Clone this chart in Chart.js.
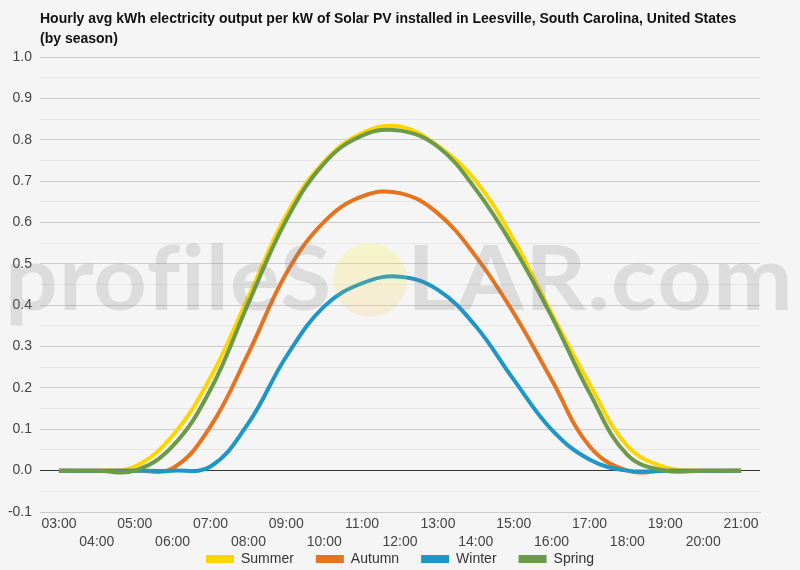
<!DOCTYPE html>
<html>
<head>
<meta charset="utf-8">
<script src="https://cdn.jsdelivr.net/npm/chart.js@4.4.1/dist/chart.umd.min.js"></script>
<style>
  html, body { margin: 0; padding: 0; background: #f5f5f5; }
  #wrap { position: relative; width: 800px; height: 570px; }
  #title {
    position: absolute; left: 40px; top: 8px; width: 740px;
    font: bold 14px Arial, "Liberation Sans", sans-serif; line-height: 20px; color: #111;
  }
  canvas { position: absolute; left: 0; top: 0; }
</style>
</head>
<body>
<div id="wrap">
  <canvas id="chart" width="800" height="570"></canvas>
  <div id="title">Hourly avg kWh electricity output per kW of Solar PV installed in Leesville, South Carolina, United States<br>(by season)</div>
</div>
<script>
// hours on the x axis
const hours = ['03:00', '04:00', '05:00', '06:00', '07:00', '08:00', '09:00', '10:00', '11:00', '12:00',
               '13:00', '14:00', '15:00', '16:00', '17:00', '18:00', '19:00', '20:00', '21:00'];

// kWh per kW
const summer = [0, 0, 0.01, 0.085, 0.225, 0.42, 0.618, 0.747, 0.816, 0.832, 0.785, 0.70, 0.558, 0.38, 0.21, 0.06, 0.008, 0, 0];
const autumn = [0, 0, 0, 0.006, 0.107, 0.284, 0.477, 0.602, 0.663, 0.671, 0.622, 0.518, 0.381, 0.22, 0.059, 0, 0, 0, 0];
const winter = [0, 0, 0, 0, 0.01, 0.115, 0.276, 0.397, 0.453, 0.469, 0.437, 0.349, 0.22, 0.099, 0.027, 0, 0, 0, 0];
const spring = [0, 0, 0, 0.059, 0.196, 0.405, 0.606, 0.743, 0.81, 0.822, 0.783, 0.68, 0.54, 0.373, 0.188, 0.038, 0, 0, 0];

const seasons = ['Summer', 'Autumn', 'Winter', 'Spring'];
const colors = ['#ffd500', '#e8731e', '#1e96c8', '#6b9a4b'];

// y ticks every 0.05, only every 0.1 gets a label
const yMin = -0.1, yMax = 1.0, yStep = 0.05;

// big faded "profileSOLAR.com" mark over the plot
const watermark = {
  id: 'watermark',
  afterLayout(chart) {
    // pull the legend up so it sits just under the second row of hour labels
    const lg = chart.legend;
    if (lg) { lg.top -= 20; lg.bottom -= 20; }
  },
  afterDatasetsDraw(chart) {
    const ctx = chart.ctx;
    ctx.save();
    ctx.font = 'bold 90px Lato';
    ctx.letterSpacing = '1px';
    ctx.fillStyle = 'rgba(120,120,120,0.2)';
    ctx.textBaseline = 'alphabetic';
    const fit = (txt, x0, x1, y) => {
      const w = ctx.measureText(txt).width;
      ctx.save();
      ctx.translate(x0, y);
      ctx.scale((x1 - x0) / w, 1);
      ctx.fillText(txt, 0, 0);
      ctx.restore();
    };
    fit('profileS', 5, 332, 310);
    fit('LAR.com', 407, 794, 310);

    const g = ctx.createLinearGradient(0, 243, 0, 317);
    g.addColorStop(0, 'rgba(255,255,0,0.18)');
    g.addColorStop(1, 'rgba(255,170,0,0.12)');
    ctx.fillStyle = g;
    ctx.beginPath();
    ctx.arc(370, 280, 37, 0, Math.PI * 2);
    ctx.fill();
    ctx.restore();
  }
};

const datasets = [summer, autumn, winter, spring].map((vals, i) => ({
  label: seasons[i],
  data: vals,
  borderColor: colors[i],
  backgroundColor: colors[i],
  borderWidth: 4,
  pointRadius: 0,
  tension: 0.4,
  fill: false,
  order: 3 - i
}));

new Chart(document.getElementById('chart'), {
  type: 'line',
  data: { labels: hours, datasets: datasets },
  plugins: [watermark],
  options: {
    responsive: false,
    animation: false,
    layout: { padding: { top: 57, right: 0, left: 0, bottom: -26 } },
    scales: {
      x: {
        offset: true,
        grid: { display: false, drawTicks: false },
        border: { display: true, color: '#cccccc' },
        ticks: {
          autoSkip: false,
          maxRotation: 0,
          padding: 3,
          color: '#444',
          font: { family: 'Arial', size: 14, lineHeight: 1.3 },
          callback: function (val, i) {
            const lab = this.getLabelForValue(val);
            return i % 2 === 0 ? lab : ['', lab];
          }
        },
        afterFit: s => { s.height = 38; }
      },
      y: {
        min: yMin,
        max: yMax,
        border: { display: false },
        grid: {
          drawTicks: false,
          color: c => {
            const k = Math.round(c.tick.value * 100);
            if (k === 0) return '#333333';
            return k % 10 === 0 ? '#cccccc' : '#e6e6e6';
          },
          lineWidth: 1
        },
        ticks: {
          stepSize: yStep,
          padding: 8,
          color: '#444',
          font: { family: 'Arial', size: 14 },
          callback: v => {
            const k = Math.round(v * 100);
            if (k === 0) return '0.0';
            return k % 10 === 0 ? (k / 100).toFixed(1) : '';
          }
        },
        afterFit: s => { s.width = 40; }
      },
      // empty right-hand axis, only keeps 40px free on the right
      yRight: {
        position: 'right',
        min: yMin,
        max: yMax,
        border: { display: false },
        grid: { display: false, drawTicks: false },
        ticks: { display: false },
        afterFit: s => { s.width = 40; }
      }
    },
    plugins: {
      title: { display: false },
      tooltip: { enabled: false },
      legend: {
        position: 'bottom',
        labels: {
          boxWidth: 28,
          boxHeight: 8,
          padding: 22,
          color: '#333',
          font: { family: 'Arial', size: 14 },
          sort: (a, b) => a.datasetIndex - b.datasetIndex,
          generateLabels: chart => Chart.defaults.plugins.legend.labels.generateLabels(chart)
            .map(l => Object.assign(l, { lineWidth: 0, fillStyle: l.strokeStyle }))
        }
      }
    }
  }
});
</script>
</body>
</html>
